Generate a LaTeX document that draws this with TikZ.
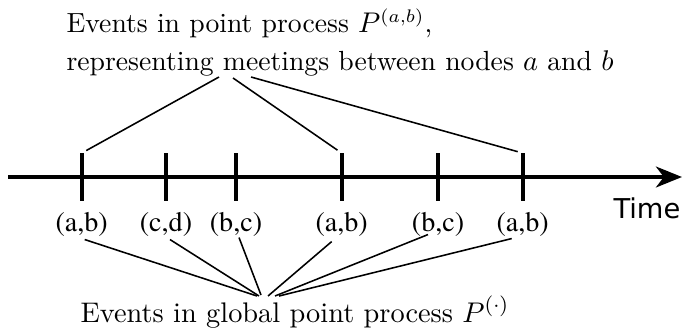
\documentclass[tikz,border=0pt]{standalone}
\usepackage{fontspec}
\newfontfamily\timefont{DejaVu Sans}
\newcommand{\eventfont}{\fontencoding{T1}\fontfamily{ptm}\selectfont}
\usetikzlibrary{arrows.meta, positioning, calc}

\begin{document}
\begin{tikzpicture}[
        x=0.01352cm, y=-0.01352cm,
        time_axis/.style = {line width=1.5pt, -{Stealth[length=10pt, width=8pt, inset=3pt]}},
        event_tick/.style = {rectangle, inner sep=0pt, minimum width=0pt, minimum height=18pt},
        tick_line/.style = {line width=1.5pt},
        pair_label/.style = {inner sep=0pt, font=\fontsize{10.8}{12}\eventfont},
        time_label/.style = {inner sep=0pt, font=\timefont\fontsize{10.5}{12}\selectfont},
        link/.style = {line width=0.6pt},
        caption/.style = {inner sep=0pt, align=left, font=\fontsize{10.9}{14.2}\selectfont}
    ]
    \useasboundingbox (0,0) rectangle (684,329);

    % Time axis
    \coordinate (axis_start) at (8,177);
    \coordinate (axis_end) at (682,177);
    \draw [time_axis] (axis_start) -- (axis_end);
    \node [time_label, anchor=base west] (time) at (613,218) {Time};

    % Events on the axis
    \foreach \x/\pair [count=\i] in {81.7/{(a,b)}, 166/{(c,d)}, 236/{(b,c)}, 341.7/{(a,b)}, 438/{(b,c)}, 522.7/{(a,b)}} {
        \node [event_tick] (t\i) at (\x,177) {};
        \draw [tick_line] (t\i.north) -- (t\i.south);
        \node [pair_label, anchor=base] (p\i) at (\x,231) {\pair};
    }

    % Point process of (a,b)
    \node [caption, anchor=base west, font=\fontsize{10.65}{14.4}\selectfont] (events_ab) at (66,70) {Events in point process $P^{(a,b)}$,\\representing meetings between nodes $a$ and $b$};
    \coordinate (ab_1) at (219,77);
    \coordinate (ab_2) at (233,78);
    \coordinate (ab_3) at (251,77);
    \draw [link, shorten >=2pt] (ab_1) -- (t1.north);
    \draw [link, shorten >=2pt] (ab_2) -- (t4.north);
    \draw [link, shorten >=2pt] (ab_3) -- (t6.north);

    % Global point process
    \node [caption, anchor=base west] (events_all) at (80,322) {Events in global point process $P^{(\cdot)}$};
    \coordinate (all_1) at (257,296);
    \coordinate (all_2) at (259,296);
    \coordinate (all_3) at (261,295);
    \coordinate (all_4) at (268,296);
    \coordinate (all_5) at (275,296);
    \coordinate (all_6) at (279,296);
    \draw [link] ($(p1.south)+(3,3)$) -- (all_1);
    \draw [link] ($(p2.south)+(4,3)$) -- (all_2);
    \draw [link] ($(p3.south)+(3,1)$) -- (all_3);
    \draw [link] ($(p4.south)+(-10,5)$) -- (all_4);
    \draw [link] ($(p5.south)+(-10,-2)$) -- (all_5);
    \draw [link] ($(p6.south)+(-11,2)$) -- (all_6);

\end{tikzpicture}
\end{document}
